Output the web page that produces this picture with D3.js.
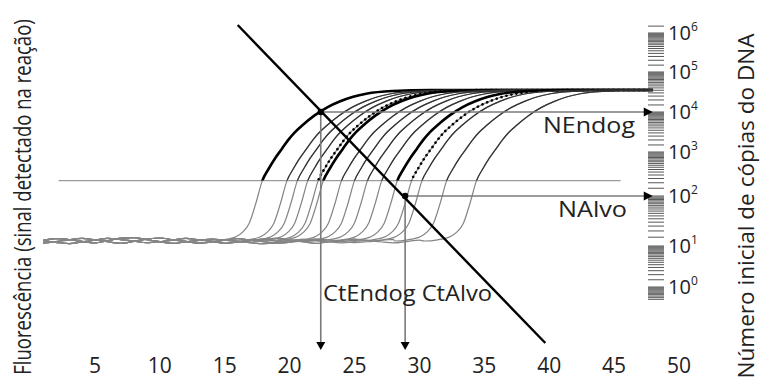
<!DOCTYPE html>
<html><head><meta charset="utf-8">
<script src="https://cdn.jsdelivr.net/npm/d3@7"></script>
<style>body{margin:0;background:#fff}</style>
</head><body>
<svg id="c" width="762" height="383"></svg>
<script>
// ---------- data ----------
const cycleTicks = [5, 10, 15, 20, 25, 30, 35, 40, 45, 50];
const copyTicks = [1, 10, 100, 1000, 10000, 100000, 1000000];
const copyExponents = ["0", "1", "2", "3", "4", "5", "6"];
const copyTickY = [287, 246, 196, 152, 112, 72, 33]; // piecewise positions of the hand-drawn log axis
const rulerDecades = [0.1, 1, 10, 100, 1000, 10000, 100000, 1000000];
const rulerSteps = [1,1.5,2,2.5,3,3.5,4,4.5,5,5.5,6,6.5,7,7.5,8,8.5,9,9.5];

// threshold-crossing cycle of each amplification curve
const ctValues = [17.9, 19.8, 20.6, 21.4, 22.2, 22.6, 24.0, 25.0, 26.0, 27.1, 28.3, 29.4, 30.2, 32.1, 34.4];
const curveStyle = ["thick","thin","thin","thin","dotted","thick","thin","thin","thin","thin","thick","dotted","thin","thin","thin"];

// shared amplification shape (cycles relative to Ct, fluorescence %)
const templateDc = [-4, -3, -2, -1.5, -1, -0.5, 0, 0.5, 1, 1.5, 2, 2.5, 3, 4, 5, 6, 7, 8, 10, 13];
const templateF  = [0, 0.8, 3, 6, 12, 25, 40, 48, 55, 61, 67, 72, 76, 83, 88.5, 92.5, 95.5, 97.5, 99.3, 100];

// baseline wobble (fluorescence %), cycles 1..31
const noiseA = [0.5,1.6,1.0,-0.3,-1.2,0.2,1.9,2.2,0.9,-0.4,-1.6,-0.6,0.4,1.2,0.6,-0.2,-1.1,-1.8,-0.7,0.3,1.1,0.4,-0.5,-1.2,-0.4,0.5,1.3,0.6,-0.3,-1.0,-0.2];
const noiseB = [-1.4,-0.4,0.8,1.7,0.7,-0.5,-1.5,-0.2,1.2,2.0,0.8,-0.3,-1.4,-0.6,0.5,1.6,0.6,-0.4,-1.5,-0.8,0.2,1.2,0.7,-0.3,-1.1,-0.5,0.4,1.1,0.3,-0.6,-1.2];
const noiseC = [0.2,-0.9,-1.7,-0.6,0.5,1.8,0.9,-0.1,-1.1,-0.5,0.6,1.7,0.8,-0.2,-1.5,-0.7,0.3,1.3,1.8,0.6,-0.4,-1.6,-0.6,0.4,1.2,0.5,-0.5,-1.3,-0.4,0.6,1.1];
const noiseSets = [noiseA, noiseB, noiseC];

const threshold = 40;              // fluorescence %
const thresholdSpan = [2.2, 45.5]; // cycles covered by threshold line
const firstCycle = 1, lastCycle = 48;
const rulerCycle = 47.9;

const ctEndog = 22.4, nEndog = 1e4;
const ctAlvo = 28.9, nAlvo = 1e2;
const stdCurveCt = [16.0, 39.7];
const stdCurveN = [1.6e6, 0.043];

// ---------- scales ----------
const svg = d3.select("#c");
const x = d3.scaleLinear().domain([0, 50]).range([30, 679]);
const yF = d3.scaleLinear().domain([0, 100]).range([241, 90]);
const yN = d3.scaleLog().domain(copyTicks).range(copyTickY);
const arrowBottom = 350;
const rulerX0 = 648, rulerX1 = 664;
const FONT = "'Open Sans', 'DejaVu Sans', sans-serif";

svg.append("defs").append("clipPath").attr("id", "above")
  .append("rect").attr("x", 0).attr("y", 0).attr("width", 762).attr("height", yF(threshold));

const curves = ctValues.map((ct, i) => {
  const pts = [];
  const noise = noiseSets[i % 3];
  for (let c = firstCycle; c < ct + templateDc[0]; c++) pts.push([c, noise[c - 1]]);
  templateDc.forEach((dc, j) => pts.push([ct + dc, templateF[j]]));
  if (ct + templateDc[templateDc.length - 1] < lastCycle) pts.push([lastCycle, 100]);
  return { ct, style: curveStyle[i], pts };
});
const line = d3.line().x(d => x(d[0])).y(d => yF(d[1])).curve(d3.curveMonotoneX);

// threshold line
svg.append("line")
  .attr("x1", x(thresholdSpan[0])).attr("x2", x(thresholdSpan[1]))
  .attr("y1", yF(threshold)).attr("y2", yF(threshold))
  .attr("stroke", "#9a9a9a").attr("stroke-width", 1.4);

// full curves, gray
svg.append("g").selectAll("path").data(curves).join("path")
  .attr("d", d => line(d.pts)).attr("fill", "none")
  .attr("stroke", "#858585").attr("stroke-width", 1.2);

// upper parts
const up = svg.append("g").attr("clip-path", "url(#above)");
up.selectAll("path").data(curves).join("path")
  .attr("d", d => line(d.pts)).attr("fill", "none")
  .attr("stroke", d => d.style === "thin" ? "#333" : "#000")
  .attr("stroke-width", d => d.style === "thin" ? 1.2 : 2.6)
  .attr("stroke-dasharray", d => d.style === "dotted" ? "0.1,5" : null)
  .attr("stroke-linecap", d => d.style === "dotted" ? "round" : "butt");

// ruler (log scale of copies)
const rulerVals = [];
rulerDecades.forEach(dec => rulerSteps.forEach(k => {
  const v = dec * k, yy = yN(v);
  if (yy >= 22 && yy <= 300) rulerVals.push(v);
}));
svg.append("g").selectAll("line").data(rulerVals).join("line")
  .attr("x1", rulerX0).attr("x2", rulerX1)
  .attr("y1", d => yN(d)).attr("y2", d => yN(d))
  .attr("stroke", "#444").attr("stroke-width", 0.9);

// ruler labels
const lab = svg.append("g").selectAll("text").data(copyTicks).join("text")
  .attr("x", 668).attr("y", d => yN(d) + 7)
  .attr("font-family", FONT).attr("font-size", 20).attr("fill", "#222");
lab.append("tspan").text("10");
lab.append("tspan").attr("dy", -9).attr("font-size", 12).text((d, i) => copyExponents[i]);

// N and Ct arrows
[[ctEndog, nEndog], [ctAlvo, nAlvo]].forEach(([ct, n]) => {
  const yy = yN(n);
  svg.append("line").attr("x1", x(ct)).attr("x2", x(rulerCycle) - 6)
    .attr("y1", yy).attr("y2", yy).attr("stroke", "#7a7a7a").attr("stroke-width", 1.6);
  const xe = x(rulerCycle);
  svg.append("path").attr("d", `M${xe - 8},${yy - 4.5}L${xe + 1},${yy}L${xe - 8},${yy + 4.5}Z`).attr("fill", "#000");
  svg.append("line").attr("x1", x(ct)).attr("x2", x(ct))
    .attr("y1", yy).attr("y2", arrowBottom - 7).attr("stroke", "#7a7a7a").attr("stroke-width", 1.6);
  svg.append("path").attr("d", `M${x(ct) - 4.5},${arrowBottom - 8}L${x(ct)},${arrowBottom}L${x(ct) + 4.5},${arrowBottom - 8}Z`).attr("fill", "#000");
});

// standard curve diagonal
svg.append("line")
  .attr("x1", x(stdCurveCt[0])).attr("y1", yN(stdCurveN[0]))
  .attr("x2", x(stdCurveCt[1])).attr("y2", yN(stdCurveN[1]))
  .attr("stroke", "#000").attr("stroke-width", 2.4);

[[ctEndog, nEndog], [ctAlvo, nAlvo]].forEach(([ct, n]) => {
  svg.append("circle").attr("cx", x(ct)).attr("cy", yN(n)).attr("r", 3.2).attr("fill", "#000");
});

// x tick labels
svg.append("g").selectAll("text").data(cycleTicks).join("text")
  .attr("x", d => x(d)).attr("y", 373).attr("text-anchor", "middle")
  .attr("font-family", FONT).attr("font-size", 21).attr("fill", "#222").text(d => d);

// annotations
svg.append("text").attr("x", 543).attr("y", 133).attr("font-family", FONT).attr("font-size", 22)
  .attr("fill", "#222").attr("textLength", 92).attr("lengthAdjust", "spacingAndGlyphs").text("NEndog");
svg.append("text").attr("x", 558).attr("y", 217).attr("font-family", FONT).attr("font-size", 22)
  .attr("fill", "#222").attr("textLength", 69).attr("lengthAdjust", "spacingAndGlyphs").text("NAlvo");
svg.append("text").attr("x", 323).attr("y", 301).attr("font-family", FONT).attr("font-size", 21)
  .attr("fill", "#222").attr("textLength", 169).attr("lengthAdjust", "spacingAndGlyphs").text("CtEndog CtAlvo");

// axis titles: condensed by a horizontal scale so the whole title fits
const leftTitle = svg.append("text")
  .attr("text-anchor", "middle").attr("font-family", FONT).attr("font-size", 23).attr("fill", "#222")
  .text("Fluorescência (sinal detectado na reação)");
const natural = leftTitle.node().getComputedTextLength();
leftTitle.attr("transform", `translate(31,197) rotate(-90) scale(${356 / natural},1)`);

svg.append("text").attr("transform", "translate(754,206) rotate(-90)")
  .attr("text-anchor", "middle").attr("font-family", FONT).attr("font-size", 21).attr("fill", "#222")
  .attr("textLength", 345).attr("lengthAdjust", "spacingAndGlyphs")
  .text("Número inicial de cópias do DNA");
</script>
</body></html>
